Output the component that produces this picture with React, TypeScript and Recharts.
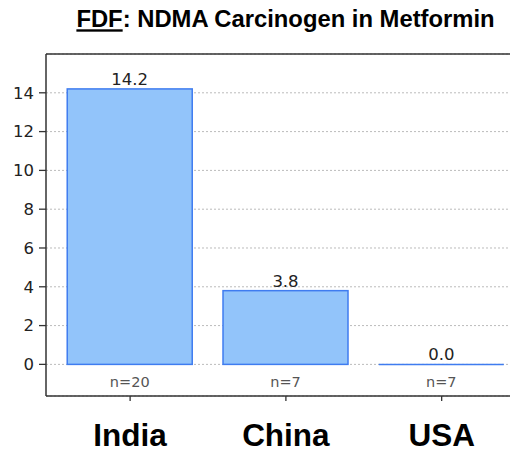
import React from "react";
import {
  BarChart,
  Bar,
  XAxis,
  YAxis,
  CartesianGrid,
  LabelList,
  ReferenceLine,
} from "recharts";

const countries = ["India", "China", "USA"];
const ndmaValues = [14.2, 3.8, 0.0];
const sampleSizes = [20, 7, 7];
const yTicks = [0, 2, 4, 6, 8, 10, 12, 14];

const data = countries.map((name, i) => ({
  idx: i,
  name,
  value: ndmaValues[i],
  n: sampleSizes[i],
}));

const BAR_FILL = "#92c4fa";
const BAR_STROKE = "#3f7cf0";

const BarShape = (props: any) => {
  const { x, y, width, height } = props;
  if (!height || Math.abs(height) < 0.5) {
    return (
      <line
        x1={x}
        x2={x + width}
        y1={y}
        y2={y}
        stroke={BAR_STROKE}
        strokeWidth={1.5}
      />
    );
  }
  return (
    <rect
      x={x}
      y={y}
      width={width}
      height={height}
      fill={BAR_FILL}
      stroke={BAR_STROKE}
      strokeWidth={1.5}
    />
  );
};

const XTick = (props: any) => {
  const { x, y, payload } = props;
  return (
    <text
      x={x}
      y={y + 42.5}
      textAnchor="middle"
      fontFamily="'Liberation Sans', Arial, sans-serif"
      fontWeight="bold"
      fontSize={31.5}
      fill="#000"
    >
      {countries[payload.value]}
    </text>
  );
};

const NLabel = (props: any) => {
  const { x, y, width, height, value } = props;
  return (
    <text
      x={x + width / 2}
      y={y + height + 22.5}
      textAnchor="middle"
      fontFamily="'DejaVu Sans', sans-serif"
      fontSize={14.5}
      fill="#555"
    >
      {`n=${value}`}
    </text>
  );
};

export default function App() {
  return (
    <div style={{ position: "relative", width: 510, height: 445 }}>
      <BarChart
        width={510}
        height={445}
        data={data}
        margin={{ top: 46, right: 0, bottom: 0, left: 0 }}
      >
        <CartesianGrid
          horizontal={true}
          vertical={false}
          stroke="#bbbbbb"
          strokeDasharray="2 2"
        />
        <XAxis
          dataKey="idx"
          type="number"
          domain={[-0.54, 2.49]}
          ticks={[0, 1, 2]}
          allowDataOverflow
          height={57}
          tickSize={5}
          tickLine={{ stroke: "#333", strokeWidth: 1.3 }}
          axisLine={{ stroke: "#333", strokeWidth: 1.5 }}
          tick={<XTick />}
        />
        <YAxis
          type="number"
          domain={[-1.63, 16]}
          ticks={yTicks}
          allowDataOverflow
          width={38}
          tickSize={7}
          tickMargin={5}
          tickLine={{ stroke: "#333", strokeWidth: 1.3 }}
          axisLine={{ stroke: "#333", strokeWidth: 1.5 }}
          tick={{
            fontFamily: "'DejaVu Sans', sans-serif",
            fontSize: 16.5,
            fill: "#222",
          }}
        />
        <ReferenceLine y={16} stroke="#333" strokeWidth={1.5} />
        <Bar
          dataKey="value"
          barSize={125}
          isAnimationActive={false}
          shape={<BarShape />}
        >
          <LabelList
            dataKey="value"
            position="top"
            offset={4}
            formatter={(v: any) => Number(v).toFixed(1)}
            style={{
              fontFamily: "'DejaVu Sans', sans-serif",
              fontSize: 16.5,
              fill: "#222",
            }}
          />
          <LabelList dataKey="n" content={<NLabel />} />
        </Bar>
      </BarChart>
      <svg
        width={518}
        height={48}
        style={{ position: "absolute", left: -8, top: -8, pointerEvents: "none" }}
      >
        <text
          x={285.5}
          y={27.3}
          textAnchor="middle"
          fontFamily="'Liberation Sans', Arial, sans-serif"
          fontWeight="bold"
          fontSize={23.8}
          fill="#000"
        >
          <tspan style={{ textDecoration: "underline" }}>FDF</tspan>
          <tspan>: NDMA Carcinogen in Metformin</tspan>
        </text>
      </svg>
    </div>
  );
}
